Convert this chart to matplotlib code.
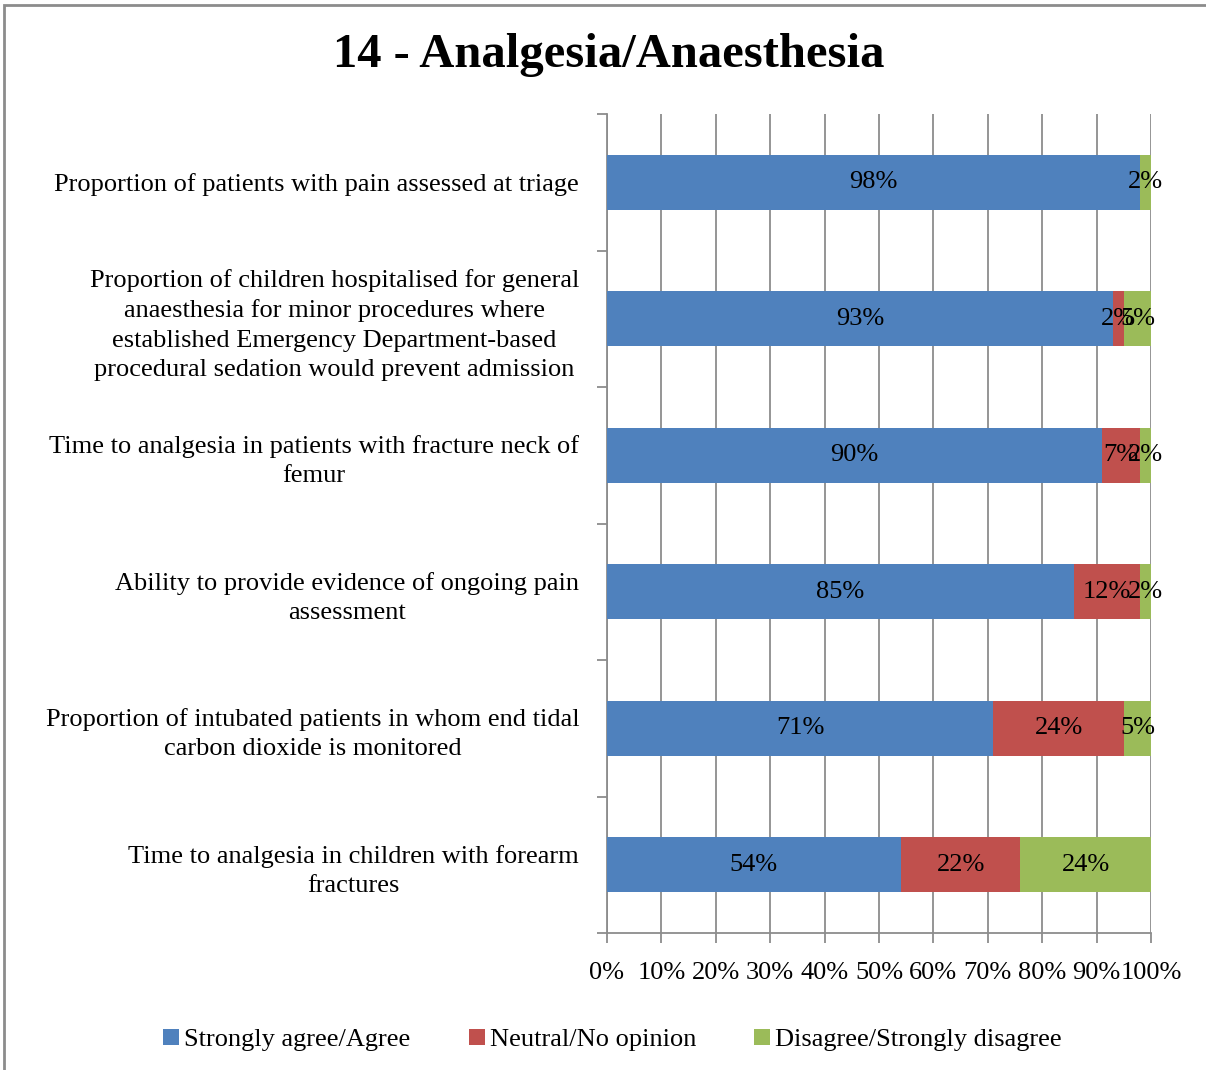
import numpy as np
import matplotlib.pyplot as plt
from matplotlib.patches import Rectangle

# survey statements (top to bottom)
categories = [
    "Proportion of patients with pain assessed at triage",
    "Proportion of children hospitalised for general\nanaesthesia for minor procedures where\nestablished Emergency Department-based\nprocedural sedation would prevent admission",
    "Time to analgesia in patients with fracture neck of\nfemur",
    "Ability to provide evidence of ongoing pain\nassessment",
    "Proportion of intubated patients in whom end tidal\ncarbon dioxide is monitored",
    "Time to analgesia in children with forearm\nfractures",
]

# percentages as labelled on the bars
agree = [98, 93, 90, 85, 71, 54]
neutral = [0, 2, 7, 12, 24, 22]
disagree = [2, 5, 2, 2, 5, 24]

series_names = ["Strongly agree/Agree", "Neutral/No opinion", "Disagree/Strongly disagree"]
colors = ["#4f81bd", "#c0504d", "#9bbb59"]
xtick_labels = ["0%", "10%", "20%", "30%", "40%", "50%", "60%", "70%", "80%", "90%", "100%"]

plt.rcParams['font.family'] = ['Liberation Serif', 'DejaVu Serif']

fig = plt.figure(figsize=(12.06, 10.7), dpi=100)
ax = fig.add_axes([607 / 1206, 1 - 933 / 1070, 544 / 1206, (933 - 114) / 1070])

data = np.array([agree, neutral, disagree], dtype=float)
shares = data / data.sum(axis=0)  # 100% stacked
y = np.arange(len(categories))
left = np.zeros(len(categories))
for i in range(3):
    ax.barh(y, shares[i], left=left, height=0.4, color=colors[i], label=series_names[i], zorder=3)
    for j in range(len(categories)):
        if data[i, j] > 0:
            ax.text(left[j] + shares[i, j] / 2, y[j], f"{int(data[i, j])}%",
                    ha='center', va='center', fontsize=19, zorder=4)
    left += shares[i]

ax.set_xlim(0, 1)
ax.set_ylim(len(categories) - 0.5, -0.5)
ax.set_xticks(np.linspace(0, 1, 11))
ax.set_xticklabels(xtick_labels, fontsize=19)
ax.xaxis.grid(True, color='#8c8c8c', linewidth=1.3, zorder=0)
ax.tick_params(axis='x', length=7, width=1.3, color='#8c8c8c', pad=14)

ax.set_yticks(y)
ax.set_yticklabels(categories, fontsize=19, linespacing=1.42)
ax.set_yticks(np.arange(len(categories) + 1) - 0.5, minor=True)
ax.tick_params(axis='y', which='major', length=0, pad=20)
ax.tick_params(axis='y', which='minor', length=7, width=1.3, color='#8c8c8c')
for lab in ax.get_yticklabels():
    lab.set_horizontalalignment('right')
    lab.set_multialignment('center')

for s in ['top', 'right']:
    ax.spines[s].set_visible(False)
ax.spines['left'].set_color('#8c8c8c')
ax.spines['left'].set_linewidth(1.3)
ax.spines['bottom'].set_color('#8c8c8c')
ax.spines['bottom'].set_linewidth(1.3)

fig.text(0.505, 1 - 55 / 1070, "14 - Analgesia/Anaesthesia", ha='center', va='center',
         fontsize=35, fontweight='bold')

fig.legend(loc='center', bbox_to_anchor=(0.508, 1 - 1040 / 1070), ncol=3, frameon=False,
           fontsize=19, handlelength=0.6, handleheight=0.6, handletextpad=0.2, columnspacing=2.2)

fig.add_artist(Rectangle((4 / 1206, -0.01), 1.02, 1 - 5 / 1070 + 0.01, transform=fig.transFigure,
                         fill=False, edgecolor='#8c8c8c', linewidth=2))

fig.savefig("out.png", dpi=100)
